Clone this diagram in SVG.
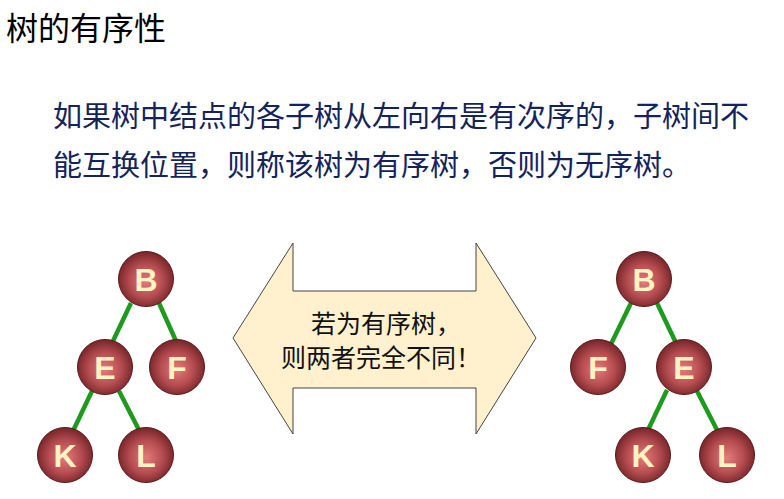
<svg xmlns="http://www.w3.org/2000/svg" width="784" height="499" viewBox="0 0 784 499">
<defs>
<radialGradient id="ball" cx="50%" cy="52%" r="55%" fx="50%" fy="55%">
<stop offset="0" stop-color="#E47C7C"/>
<stop offset="0.55" stop-color="#B44C50"/>
<stop offset="1" stop-color="#6E2024"/>
</radialGradient>
<style>
.title{font-family:"Noto Sans CJK SC","Noto Sans",sans-serif;font-size:32px;fill:#000}
.para{font-family:"Noto Sans CJK SC","Noto Sans",sans-serif;font-size:29px;fill:#14245A}
.arrowtxt{font-family:"Noto Sans CJK SC","Noto Sans",sans-serif;font-size:25px;fill:#111;text-anchor:middle}
.node circle{fill:url(#ball);stroke:#5A1A1E;stroke-width:1}
.node text{font-family:"Liberation Sans",Arial,sans-serif;font-weight:bold;font-size:32px;fill:#FFF3C4;text-anchor:middle}
.edge{stroke:#1E9A1E;stroke-width:4.5;stroke-linecap:butt}
</style>
</defs>
<rect width="784" height="499" fill="#fff"/>
<text class="title" x="6" y="40">树的有序性</text>
<text class="para" x="53" y="127">如果树中结点的各子树从左向右是有次序的，子树间不</text>
<text class="para" x="53" y="176">能互换位置，则称该树为有序树，否则为无序树。</text>

<g id="bigarrow">
<polygon points="233,338 293,243 293,291 476,291 476,243 536,338 476,434 476,388 293,388 293,434" fill="#FFF0CE" stroke="#444" stroke-width="1"/>
<text class="arrowtxt" x="386" y="333">若为有序树，</text>
<text class="arrowtxt" x="381" y="367">则两者完全不同！</text>
</g>

<g id="connectors">
<line class="edge" x1="131" y1="303" x2="113" y2="341"/>
<line class="edge" x1="159" y1="303" x2="176" y2="341"/>
<line class="edge" x1="92" y1="391" x2="73" y2="431"/>
<line class="edge" x1="119" y1="391" x2="139" y2="430"/>
<line class="edge" x1="631" y1="303" x2="611" y2="344"/>
<line class="edge" x1="657" y1="303" x2="676" y2="343"/>
<line class="edge" x1="667" y1="390" x2="648" y2="430"/>
<line class="edge" x1="697" y1="391" x2="717" y2="430"/>
</g>

<g id="L_B" class="node"><circle cx="146" cy="279" r="27.5"/><text x="146" y="291">B</text></g>
<g id="L_E" class="node"><circle cx="105" cy="367" r="27.5"/><text x="105" y="379">E</text></g>
<g id="L_F" class="node"><circle cx="177" cy="367" r="27.5"/><text x="177" y="379">F</text></g>
<g id="L_K" class="node"><circle cx="65" cy="455" r="27.5"/><text x="65" y="467">K</text></g>
<g id="L_L" class="node"><circle cx="146" cy="455" r="27.5"/><text x="146" y="467">L</text></g>

<g id="R_B" class="node"><circle cx="644" cy="279" r="27.5"/><text x="644" y="291">B</text></g>
<g id="R_F" class="node"><circle cx="598" cy="367" r="27.5"/><text x="598" y="379">F</text></g>
<g id="R_E" class="node"><circle cx="684" cy="367" r="27.5"/><text x="684" y="379">E</text></g>
<g id="R_K" class="node"><circle cx="643" cy="455" r="27.5"/><text x="643" y="467">K</text></g>
<g id="R_L" class="node"><circle cx="727" cy="455" r="27.5"/><text x="727" y="467">L</text></g>
</svg>
